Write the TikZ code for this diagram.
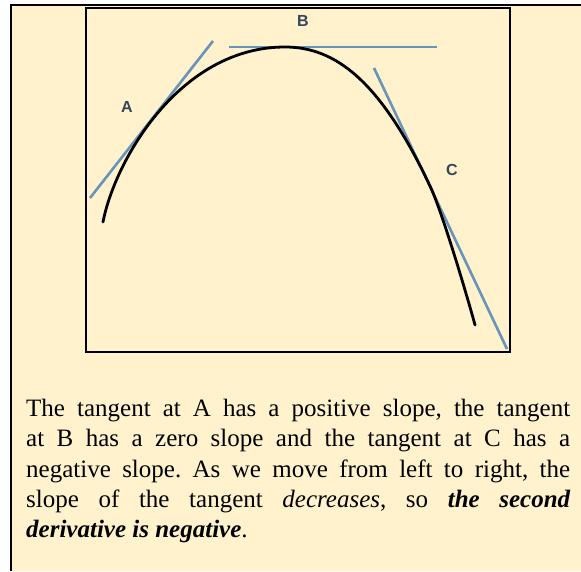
\documentclass[tikz,border=0pt]{standalone}
\usepackage{fontspec}
\setmainfont{Liberation Serif}
\newfontfamily\captionfont{Liberation Serif}
\newfontfamily\labelfont{Liberation Sans}
\definecolor{cream}{HTML}{FFF2CC}
\definecolor{tanblue}{HTML}{6894BC}
\definecolor{labgray}{HTML}{34465A}
\begin{document}
\frenchspacing
\begin{tikzpicture}[x=1pt, y=-1pt,
  tangent/.style={tanblue, line width=2.6pt},
  pointlabel/.style={text=labgray, font=\labelfont\bfseries\fontsize{16}{16}\selectfont, inner sep=0pt}]
\useasboundingbox (0,0) rectangle (581,571);
\fill[cream] (11,5) rectangle (581,571);
\draw[line width=2.4pt] (11,571) -- (11,5) -- (581,5);
\draw[line width=2pt] (86,8) rectangle (510,352);
\coordinate (Aone) at (90,198);
\coordinate (Atwo) at (213,41);
\coordinate (Bone) at (229,47);
\coordinate (Btwo) at (437,47);
\coordinate (Cone) at (374,68);
\coordinate (Ctwo) at (507,349);
\draw[tangent] (Aone) -- (Atwo);
\draw[tangent] (Bone) -- (Btwo);
\draw[tangent] (Cone) -- (Ctwo);
\draw[line width=2.8pt, line cap=round] (103,222) .. controls (115,160) and (180,47) .. (285,47)
  .. controls (335,47) and (380,80) .. (430,186)
  .. controls (442,211) and (468,299) .. (475,325);
\node[pointlabel] (labA) at (127,107) {A};
\node[pointlabel] (labB) at (303,21) {B};
\node[pointlabel] (labC) at (452,170) {C};
\node[anchor=north west, inner sep=0pt, text width=544pt, align=justify, font=\captionfont\fontsize{25}{30.3}\selectfont] (caption) at (26,399) {The tangent at A has a positive slope, the tangent\linebreak at B has a zero slope and the tangent at C has a\linebreak negative slope. As we move from left to right, the\linebreak slope of the tangent \textit{decreases}, so \textbf{\textit{the second\linebreak derivative is negative}}.};
\end{tikzpicture}
\end{document}
